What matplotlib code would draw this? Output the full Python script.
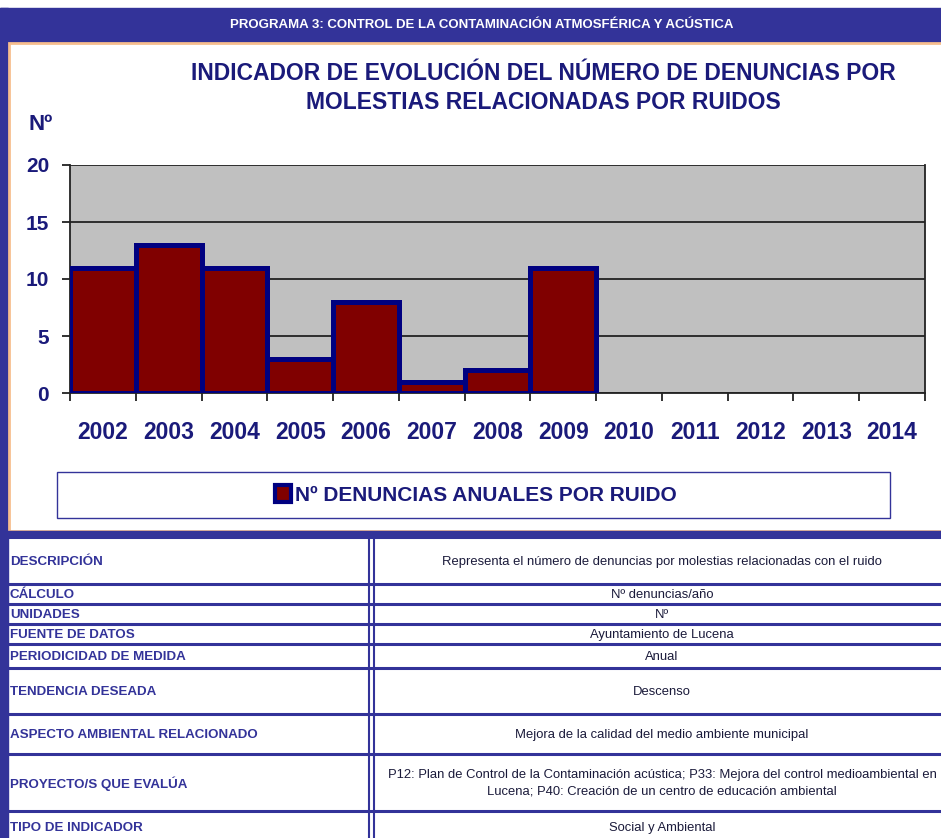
import matplotlib
matplotlib.use('Agg')
import matplotlib.pyplot as plt
from matplotlib.patches import Rectangle, Patch

years = ['2002', '2003', '2004', '2005', '2006', '2007', '2008', '2009',
         '2010', '2011', '2012', '2013', '2014']
denuncias = [11, 13, 11, 3, 8, 1, 2, 11]
yticks = [0, 5, 10, 15, 20]

header = 'PROGRAMA 3: CONTROL DE LA CONTAMINACIÓN ATMOSFÉRICA Y ACÚSTICA'
title = 'INDICADOR DE EVOLUCIÓN DEL NÚMERO DE DENUNCIAS POR\nMOLESTIAS RELACIONADAS POR RUIDOS'
ylabel = 'Nº'
serie = 'Nº DENUNCIAS ANUALES POR RUIDO'

row_labels = ['DESCRIPCIÓN', 'CÁLCULO', 'UNIDADES', 'FUENTE DE DATOS',
              'PERIODICIDAD DE MEDIDA', 'TENDENCIA DESEADA',
              'ASPECTO AMBIENTAL RELACIONADO', 'PROYECTO/S QUE EVALÚA',
              'TIPO DE INDICADOR']
row_values = ['Representa el número de denuncias por molestias relacionadas con el ruido',
              'Nº denuncias/año',
              'Nº',
              'Ayuntamiento de Lucena',
              'Anual',
              'Descenso',
              'Mejora de la calidad del medio ambiente municipal',
              'P12: Plan de Control de la Contaminación acústica; P33: Mejora del control medioambiental en\n'
              'Lucena; P40: Creación de un centro de educación ambiental',
              'Social y Ambiental']
# limites de filas (px)
row_edges = [537, 584, 604, 624, 644, 668, 714, 754, 811, 845]

plt.rcParams['font.family'] = ['Liberation Sans', 'DejaVu Sans']

BLUE = '#333399'
NAVY = '#000080'
TXT = '#1a1a7a'
ORANGE = '#F7BE8E'

W, H = 941, 838
fig = plt.figure(figsize=(W / 100, H / 100), dpi=100)

# fondo en pixeles
bg = fig.add_axes([0, 0, 1, 1])
bg.set_xlim(0, W)
bg.set_ylim(H, 0)
bg.axis('off')

# cabecera
bg.add_patch(Rectangle((0, 8), W, 34, color=BLUE))
bg.text(482, 25, header, color='white', fontsize=9.5, fontweight='bold',
        ha='center', va='center')
# marco del grafico
bg.add_patch(Rectangle((0, 8), 8, H, color=BLUE))
bg.add_patch(Rectangle((9, 43), W, 488, facecolor='white', edgecolor=ORANGE, lw=2))
bg.add_patch(Rectangle((0, 531), W, 6, color=BLUE))

bg.text(543, 88, title, color=TXT, fontsize=16.5, fontweight='bold',
        ha='center', va='center', linespacing=1.3)
bg.text(29, 124, ylabel, color=TXT, fontsize=16, fontweight='bold',
        ha='left', va='center')

# caja de leyenda
bg.add_patch(Rectangle((57, 472), 833, 46, facecolor='white', edgecolor=BLUE, lw=1))

# tabla
for y in row_edges[:-1]:
    bg.plot([8, W], [y, y], color=BLUE, lw=2.2)
bg.plot([369, 369], [537, H], color=BLUE, lw=1.5)
bg.plot([374, 374], [537, H], color=BLUE, lw=1.5)
for i, (lab, val) in enumerate(zip(row_labels, row_values)):
    yc = (row_edges[i] + row_edges[i + 1]) / 2 + 1
    if i == len(row_labels) - 1:
        yc = 828
    bg.text(10, yc, lab, color=BLUE, fontsize=9.6, fontweight='bold',
            ha='left', va='center')
    bg.text(662, yc, val, color='#1a1a3a', fontsize=9.4,
            ha='center', va='center', linespacing=1.5)

# grafico de barras
ax = fig.add_axes([70 / W, 1 - 393 / H, 855 / W, 228 / H])
ax.set_facecolor('#C0C0C0')
x = list(range(len(denuncias)))
ax.bar(x, denuncias, width=1.0, color='#800000', edgecolor=NAVY, linewidth=3.6,
       zorder=3, label=serie)
ax.set_xlim(-0.5, len(years) - 0.5)
ax.set_ylim(0, 20)
ax.set_yticks(yticks)
ax.set_yticklabels([str(v) for v in yticks])
ax.yaxis.grid(True, color='#222222', lw=1.3, zorder=1)
ax.set_axisbelow(True)
ax.set_xticks([i - 0.5 for i in range(len(years) + 1)])
ax.set_xticklabels([])
ax.set_xticks(range(len(years)), minor=True)
ax.set_xticklabels(years, minor=True)
ax.tick_params(axis='x', which='major', length=6, width=1.3, color='#222222')
ax.tick_params(axis='x', which='minor', length=0, pad=20, labelsize=16.5,
               labelcolor=TXT)
ax.tick_params(axis='y', length=6, width=1.3, color='#222222', labelsize=15,
               labelcolor=TXT, pad=9)
for lab in ax.get_xticklabels(minor=True) + ax.get_yticklabels():
    lab.set_fontweight('bold')
for side in ['top', 'right', 'left', 'bottom']:
    ax.spines[side].set_color('#222222')
    ax.spines[side].set_linewidth(1.3)
ax.spines['top'].set_visible(False)

handle = Patch(facecolor='#800000', edgecolor=NAVY, linewidth=3)
fig.legend([handle], [serie], loc='center', bbox_to_anchor=(476 / W, 1 - 495 / H),
           frameon=False, handlelength=0.75, handleheight=0.9, handletextpad=0.2,
           prop={'size': 15, 'weight': 'bold'}, labelcolor=TXT)

plt.savefig('out.png', dpi=100)
